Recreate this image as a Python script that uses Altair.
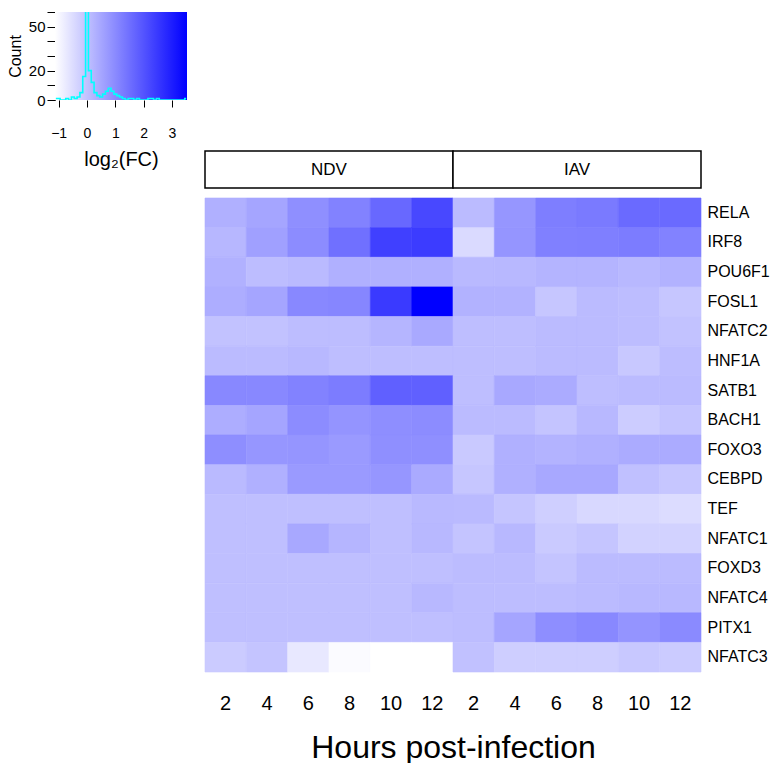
import altair as alt
import pandas as pd

# ---------------- data ----------------
genes = ["RELA", "IRF8", "POU6F1", "FOSL1", "NFATC2", "HNF1A", "SATB1", "BACH1",
         "FOXO3", "CEBPD", "TEF", "NFATC1", "FOXD3", "NFATC4", "PITX1", "NFATC3"]
viruses = ["NDV", "IAV"]
hours = [2, 4, 6, 8, 10, 12]

# log2(FC), rows follow `genes`, columns follow `hours`
ndv_values = [
    [0.31, 0.51, 0.92, 1.15, 1.63, 2.21],
    [0.19, 0.61, 0.97, 1.48, 2.36, 2.43],
    [0.30, 0.08, 0.13, 0.31, 0.31, 0.31],
    [0.37, 0.51, 1.04, 1.08, 2.47, 3.53],
    [-0.02, -0.02, 0.08, 0.08, 0.22, 0.44],
    [0.11, 0.11, 0.17, 0.06, 0.06, 0.06],
    [1.04, 1.04, 1.15, 1.26, 1.78, 1.78],
    [0.37, 0.51, 0.97, 0.83, 0.93, 0.97],
    [0.93, 0.79, 0.81, 0.72, 0.92, 0.92],
    [0.13, 0.31, 0.72, 0.72, 0.79, 0.42],
    [0.04, 0.04, 0.04, 0.04, 0.04, 0.15],
    [0.04, 0.04, 0.46, 0.22, 0.04, 0.17],
    [0.04, 0.04, 0.04, 0.04, 0.04, 0.04],
    [0.04, 0.04, 0.04, 0.04, 0.04, 0.17],
    [0.04, 0.04, 0.04, 0.04, 0.04, 0.04],
    [-0.18, -0.05, -0.71, -1.06, -1.13, -1.13],
]
iav_values = [
    [0.11, 0.79, 1.23, 1.30, 1.59, 1.59],
    [-0.45, 0.81, 1.19, 1.21, 1.26, 1.15],
    [0.15, 0.17, 0.24, 0.24, 0.17, 0.28],
    [0.28, 0.28, -0.09, 0.11, 0.08, -0.09],
    [0.06, 0.06, 0.11, 0.11, 0.08, -0.02],
    [0.06, 0.06, 0.11, 0.11, -0.13, 0.08],
    [0.06, 0.46, 0.40, 0.06, 0.11, 0.11],
    [0.11, 0.11, -0.05, 0.17, -0.20, -0.05],
    [-0.14, 0.31, 0.26, 0.31, 0.40, 0.40],
    [-0.09, 0.31, 0.46, 0.46, 0.02, -0.09],
    [0.13, -0.07, -0.25, -0.42, -0.42, -0.49],
    [-0.05, 0.17, -0.16, -0.07, -0.31, -0.31],
    [0.09, 0.09, -0.05, 0.11, 0.11, 0.11],
    [0.08, 0.08, 0.08, 0.11, 0.17, 0.17],
    [0.08, 0.51, 0.93, 1.04, 0.83, 1.01],
    [0.00, -0.23, -0.23, -0.23, -0.13, -0.18],
]

# colour-key histogram (bin centres every 0.1, counts read from the key)
hist_centers = [round(-1.1 + 0.1 * i, 1) for i in range(47)]
hist_counts = [1, 1, 0, 0, 1, 0, 2, 1, 2, 5, 16, 75, 20, 12, 5, 3, 2, 4, 6, 8,
               6, 4, 3, 2, 1, 0, 1, 1, 0, 1, 0, 0, 0, 1, 1, 0, 1, 0, 0, 0,
               0, 0, 0, 0, 0, 0, 1]
key_range = [-1.13, 3.53]
count_ticks = [0, 10, 20, 30, 40, 50, 60]
count_labels = [0, 20, 50]
fc_ticks = [-1, 0, 1, 2, 3]

# ---------------- tables ----------------
rows = []
for virus, table in (("NDV", ndv_values), ("IAV", iav_values)):
    for gene, vals in zip(genes, table):
        for h, v in zip(hours, vals):
            rows.append({"gene": gene, "col": f"{virus} {h}", "value": v})
heat_df = pd.DataFrame(rows)
col_order = [f"{v} {h}" for v in viruses for h in hours]

hist_df = pd.DataFrame({"center": hist_centers, "count": hist_counts})
key_df = pd.DataFrame({"lo": [key_range[0]], "hi": [key_range[1]],
                       "bottom": [count_ticks[0]], "top": [count_ticks[-1]]})
strip_df = pd.DataFrame({"virus": viruses})

FONT = "Liberation Sans"
color_scale = alt.Scale(domain=key_range, range=["#ffffff", "#0000ff"],
                        interpolate="rgb", clamp=True)

# ---------------- colour key ----------------
xs = alt.Scale(domain=key_range, nice=False, zero=False)
ys = alt.Scale(domain=[count_ticks[0], count_ticks[-1]], nice=False)
lbl_expr = " || ".join(f"datum.value == {v}" for v in count_labels)
x_axis = alt.Axis(values=fc_ticks, title="log₂(FC)", tickSize=7, domain=False,
                  grid=False, labelFontSize=14, labelPadding=19,
                  titleFontSize=20, titleFontWeight="normal", titlePadding=9)
y_axis = alt.Axis(values=count_ticks, labelExpr=f"({lbl_expr}) ? datum.label : ''",
                  title="Count", tickSize=8, domain=True, grid=False,
                  labelFontSize=15, labelPadding=2, titleFontSize=16,
                  titleFontWeight="normal", titlePadding=5)

gradient = {"gradient": "linear", "x1": 0, "x2": 1, "y1": 0, "y2": 0,
            "stops": [{"offset": 0, "color": "#ffffff"},
                      {"offset": 1, "color": "#0000ff"}]}

key_bg = alt.Chart(key_df).mark_rect(fill=gradient).encode(
    x=alt.X("lo:Q", scale=xs, axis=x_axis), x2="hi:Q",
    y=alt.Y("bottom:Q", scale=ys, axis=y_axis), y2="top:Q",
)
key_line = alt.Chart(hist_df).mark_line(color="#00ffff", strokeWidth=1.6,
                                        interpolate="step", clip=True).encode(
    x=alt.X("center:Q", scale=xs, axis=x_axis),
    y=alt.Y("count:Q", scale=ys, axis=y_axis),
)
key = alt.layer(key_bg, key_line).properties(width=132, height=88)

# ---------------- header strip ----------------
strip_scale = alt.Scale(domain=[0, 4.76], nice=False, zero=False)
strip_base = alt.Chart(strip_df).encode(
    x=alt.X("virus:N", sort=viruses, axis=None,
            scale=alt.Scale(paddingInner=0, paddingOuter=0)))
boxes = strip_base.mark_rect(fill="white", stroke="black", strokeWidth=1.5).encode(
    y=alt.YDatum(0, type="quantitative", scale=strip_scale, axis=None),
    y2=alt.Y2Datum(1),
)
labels = strip_base.mark_text(fontSize=17, font=FONT, color="black").encode(
    text="virus:N",
    y=alt.YDatum(0.5, type="quantitative", scale=strip_scale, axis=None),
)
strip = alt.layer(boxes, labels).properties(width=496, height=176)

# ---------------- heatmap ----------------
heat = alt.Chart(heat_df).mark_rect(strokeWidth=0.6).encode(
    x=alt.X("col:N", sort=col_order,
            scale=alt.Scale(paddingInner=0, paddingOuter=0),
            axis=alt.Axis(title="Hours post-infection", labelAngle=0,
                          labelExpr="split(datum.label, ' ')[1]",
                          ticks=False, domain=False, labelFontSize=20,
                          labelPadding=21, titleFontSize=32,
                          titleFontWeight="normal", titlePadding=19)),
    y=alt.Y("gene:N", sort=genes,
            scale=alt.Scale(paddingInner=0, paddingOuter=0),
            axis=alt.Axis(orient="right", title=None, ticks=False, domain=False,
                          labelFontSize=16, labelPadding=6)),
    color=alt.Color("value:Q", scale=color_scale, legend=None),
    stroke=alt.Stroke("value:Q", scale=color_scale, legend=None),
).properties(width=496, height=474)

right = alt.vconcat(strip, heat, spacing=8)

chart = alt.hconcat(key, right, spacing=17).properties(
    padding={"left": 7, "top": 11, "right": 0, "bottom": 0}
).configure(font=FONT).configure_view(stroke=None).configure_axis(
    labelColor="black", titleColor="black", tickColor="black",
    domainColor="black", labelFont=FONT, titleFont=FONT
)

chart.save("out.html", embed_options={"renderer": "svg", "actions": False})
